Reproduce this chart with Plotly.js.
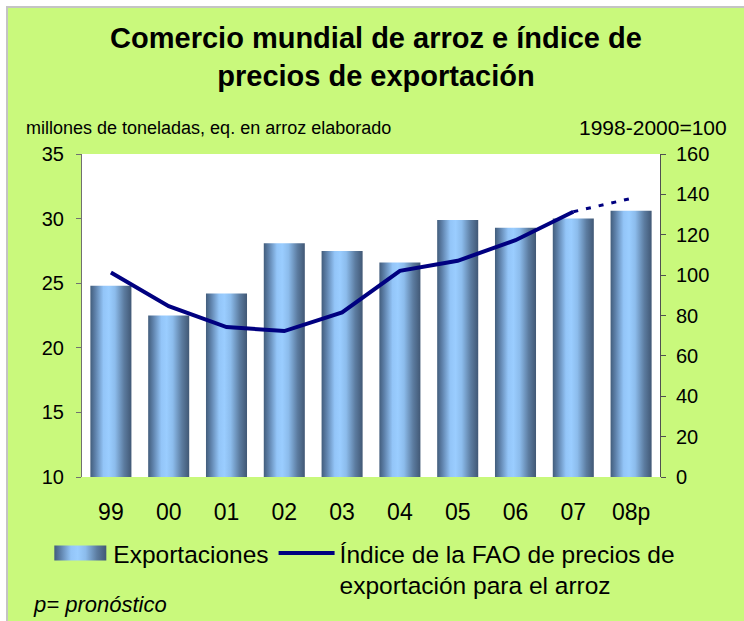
<!DOCTYPE html>
<html>
<head>
<meta charset="utf-8">
<script src="https://cdn.plot.ly/plotly-3.0.1.min.js"></script>
<style>
  html, body { margin: 0; padding: 0; background: #ffffff; }
  #frame { position: absolute; left: 6px; top: 6px; border-top: 2px solid #c4c4c4; border-left: 2px solid #c4c4c4; }
  #chart { width: 736px; height: 613px; }
</style>
</head>
<body>
<div id="frame"><div id="chart"></div></div>
<script>
// ---- data ----
const years = ['99', '00', '01', '02', '03', '04', '05', '06', '07', '08p'];
const exportaciones = [24.8, 22.5, 24.2, 28.1, 27.5, 26.6, 29.9, 29.3, 30.0, 30.6];   // millones de toneladas
const indicePrecios = [101.3, 84.6, 74.3, 72.3, 81.5, 102.1, 107.1, 117.3, 131.4, 138.0]; // 1998-2000=100
const leftTicks = [10, 15, 20, 25, 30, 35];
const rightTicks = [0, 20, 40, 60, 80, 100, 120, 140, 160];
const lastActual = 8; // index of '07'; '08p' is a forecast

const BG = '#c9f97c';
const NAVY = '#000080';
const FONT = 'Liberation Sans, Arial, sans-serif';

const traces = [
  {
    type: 'bar',
    name: 'Exportaciones',
    x: years,
    y: exportaciones,
    marker: { color: '#7aa3d0', line: { width: 0 } },
    hoverinfo: 'x+y'
  },
  {
    type: 'scatter',
    mode: 'lines',
    name: 'Índice de la FAO de precios de<br>exportación para el arroz',
    x: years.slice(0, lastActual + 1),
    y: indicePrecios.slice(0, lastActual + 1),
    yaxis: 'y2',
    line: { color: NAVY, width: 4 }
  },
  {
    type: 'scatter',
    mode: 'lines',
    showlegend: false,
    x: years.slice(lastActual),
    y: indicePrecios.slice(lastActual),
    yaxis: 'y2',
    line: { color: NAVY, width: 3, dash: '5px,8px' }
  }
];

const layout = {
  width: 736,
  height: 613,
  paper_bgcolor: BG,
  plot_bgcolor: '#ffffff',
  margin: { l: 74, r: 84, t: 146, b: 144 },
  font: { family: FONT, color: '#000000', size: 20 },
  title: {
    text: 'Comercio mundial de arroz e índice de<br>precios de exportación',
    font: { family: FONT, size: 29, color: '#000000', weight: 'bold' },
    x: 0.5, xref: 'container', xanchor: 'center',
    y: 0.935, yref: 'container', yanchor: 'top'
  },
  bargap: 0.29,
  showlegend: true,
  xaxis: {
    type: 'category',
    range: [-0.5, 9.5],
    showline: false,
    showgrid: false,
    zeroline: false,
    ticks: '',
    tickfont: { size: 23 },
    ticklabelstandoff: 19
  },
  yaxis: {
    range: [10, 35],
    tickvals: leftTicks,
    showgrid: false,
    zeroline: false,
    showline: true,
    linecolor: '#707070',
    linewidth: 1,
    ticks: 'outside',
    ticklen: 5,
    tickcolor: '#707070',
    tickfont: { size: 20 },
    ticklabelstandoff: 8
  },
  yaxis2: {
    overlaying: 'y',
    side: 'right',
    range: [0, 160],
    tickvals: rightTicks,
    showgrid: false,
    zeroline: false,
    showline: true,
    linecolor: '#505050',
    linewidth: 1,
    ticks: 'outside',
    ticklen: 5,
    tickcolor: '#505050',
    tickfont: { size: 20 },
    ticklabelstandoff: 6
  },
  legend: {
    orientation: 'h',
    x: -0.06, xanchor: 'left',
    y: -0.166, yanchor: 'top',
    bgcolor: 'rgba(0,0,0,0)',
    font: { size: 24.5 },
    valign: 'top',
    itemwidth: 56,
    tracegroupgap: 0,
    traceorder: 'normal'
  },
  annotations: [
    {
      text: 'millones de toneladas, eq. en arroz elaborado',
      xref: 'paper', yref: 'paper', x: -0.1003, y: 1.0805,
      xanchor: 'left', yanchor: 'middle', showarrow: false,
      font: { size: 18 }
    },
    {
      text: '1998-2000=100',
      xref: 'paper', yref: 'paper', x: 1.119, y: 1.0805,
      xanchor: 'right', yanchor: 'middle', showarrow: false,
      font: { size: 21 }
    },
    {
      text: 'p= pronóstico',
      xref: 'paper', yref: 'paper', x: -0.0874, y: -0.396,
      xanchor: 'left', yanchor: 'middle', showarrow: false,
      font: { size: 22, style: 'italic' }
    }
  ]
};

Plotly.newPlot('chart', traces, layout, { staticPlot: true, displayModeBar: false }).then(function (gd) {
  // horizontal metallic gradient on the bars, like the reference
  const svg = gd.querySelector('.main-svg');
  const ns = 'http://www.w3.org/2000/svg';
  let defs = svg.querySelector('defs');
  if (!defs) { defs = document.createElementNS(ns, 'defs'); svg.insertBefore(defs, svg.firstChild); }
  const grad = document.createElementNS(ns, 'linearGradient');
  grad.setAttribute('id', 'barGrad');
  grad.setAttribute('x1', '0'); grad.setAttribute('y1', '0');
  grad.setAttribute('x2', '1'); grad.setAttribute('y2', '0');
  [[0, '#425d7c'], [0.12, '#5e81aa'], [0.32, '#93c5f8'], [0.45, '#9acdff'], [0.6, '#8cbcec'], [0.82, '#5c7ca0'], [1, '#415875']]
    .forEach(function (s) {
      const st = document.createElementNS(ns, 'stop');
      st.setAttribute('offset', s[0]);
      st.setAttribute('stop-color', s[1]);
      grad.appendChild(st);
    });
  defs.appendChild(grad);
  gd.querySelectorAll('.barlayer .point path').forEach(function (p) {
    p.style.fill = 'url(#barGrad)';
  });
  const legendTraces = gd.querySelectorAll('.legend .traces');
  if (legendTraces.length) {
    legendTraces[0].querySelectorAll('.legendpoints path').forEach(function (p) {
      p.setAttribute('d', 'M26,7.5H-26V-7.5H26Z');
      p.style.fill = 'url(#barGrad)';
    });
  }
});
</script>
</body>
</html>
